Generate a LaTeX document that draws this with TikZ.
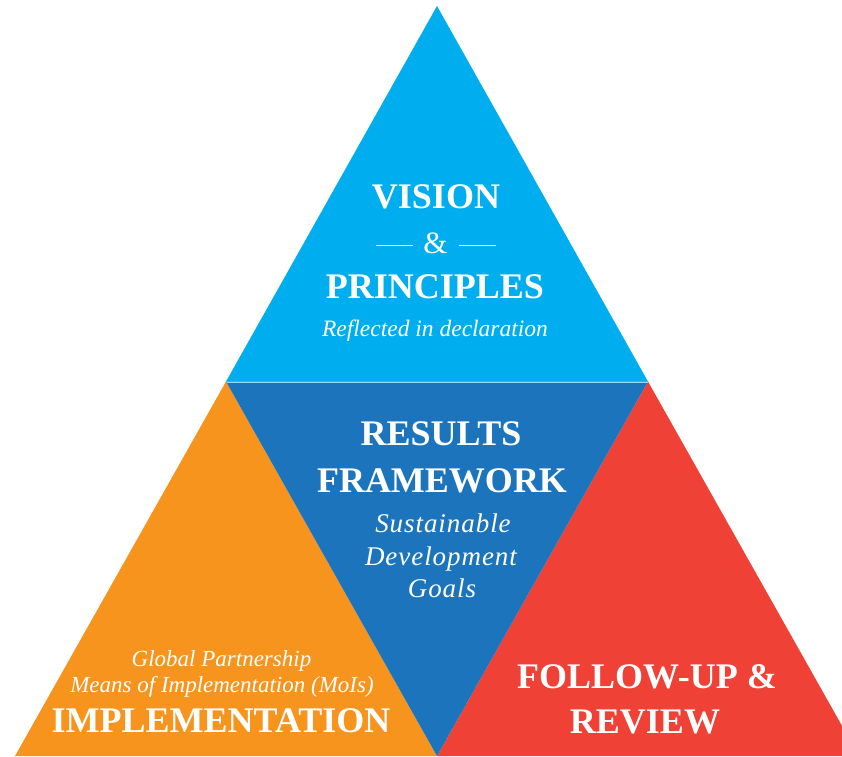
\documentclass[tikz,border=0pt]{standalone}
\usepackage{fontspec}
\setmainfont{Liberation Serif}
\definecolor{lblue}{HTML}{00AEEF}
\definecolor{dblue}{HTML}{1C75BC}
\definecolor{orng}{HTML}{F7941D}
\definecolor{rred}{HTML}{EF4136}
\definecolor{sepline}{HTML}{9FD8F4}
\tikzset{
  txt/.style={text=white, inner sep=0pt, anchor=base},
  bigtxt/.style={txt, font=\fontsize{36}{36}\selectfont\bfseries},
  ittxt/.style={txt, font=\fontsize{23.5}{23.5}\selectfont\itshape},
  sdgtxt/.style={txt, font=\fontsize{27}{27}\selectfont\itshape\addfontfeatures{LetterSpace=3.5}},
  subtxt/.style={txt, font=\fontsize{23}{23}\selectfont\itshape},
}
\begin{document}
\begin{tikzpicture}[x=1pt,y=-1pt]
\useasboundingbox (0,0) rectangle (842,756);
\begin{scope}
\clip (0,0) rectangle (842,756);
\fill[lblue] (437,6) -- (226,381.5) -- (648,381.5) -- cycle;
\fill[orng] (226,381.5) -- (15,756) -- (437,756) -- cycle;
\fill[rred] (648,381.5) -- (437,756) -- (859,756) -- cycle;
\fill[dblue] (226,381.5) -- (648,381.5) -- (437,756) -- cycle;
\draw[sepline, line width=1.6pt] (226.5,382.5) -- (647.5,382.5);
\end{scope}
% top
\node[bigtxt] (vision) at (436,208) {VISION};
\node[txt, font=\fontsize{31}{31}\selectfont] (amp) at (436,253)
  {\rule[7pt]{37pt}{1.3pt}\hspace{10pt}\&\hspace{11pt}\rule[7pt]{37pt}{1.3pt}};
\node[bigtxt] (principles) at (435,298) {PRINCIPLES};
\node[ittxt] (reflected) at (435,336) {Reflected in declaration};
% middle
\node[bigtxt] (results) at (441,445) {RESULTS};
\node[bigtxt] (framework) at (442,492) {FRAMEWORK};
\node[sdgtxt] (sust) at (443,532) {Sustainable};
\node[sdgtxt] (dev) at (441,565) {Development};
\node[sdgtxt] (goals) at (442,597) {Goals};
% bottom left
\node[subtxt] (global) at (221.5,666) {Global Partnership};
\node[subtxt] (means) at (222,692) {Means of Implementation (MoIs)};
\node[bigtxt] (impl) at (221,732) {IMPLEMENTATION};
% bottom right
\node[bigtxt] (follow) at (647,688) {FOLLOW-UP \&};
\node[bigtxt] (review) at (645,733) {REVIEW};
\end{tikzpicture}
\end{document}
